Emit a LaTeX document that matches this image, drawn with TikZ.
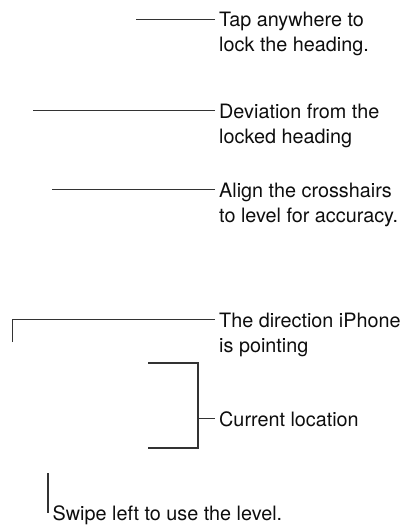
\documentclass[tikz,border=0pt]{standalone}
\usepackage{fontspec}
\setmainfont{TeX Gyre Heros}
\begin{document}
\begin{tikzpicture}[x=1pt,y=-1pt,
  lbl/.style={anchor=base west, inner sep=0pt, text=black!95,
    font=\fontsize{19.8pt}{25pt}\selectfont},
  lead/.style={draw=black!80, line width=1.2pt}]
\useasboundingbox (0,0) rectangle (406,525);

% labels
\node[lbl] (t1) at (219,26.7) {\begin{tabular}[t]{@{}l@{}}Tap anywhere to\\lock the heading.\end{tabular}};
\node[lbl] (t2) at (219,118) {\begin{tabular}[t]{@{}l@{}}Deviation from the\\locked heading\end{tabular}};
\node[lbl] (t3) at (219,197) {\begin{tabular}[t]{@{}l@{}}Align the crosshairs\\to level for accuracy.\end{tabular}};
\node[lbl] (t4) at (219,327) {\begin{tabular}[t]{@{}l@{}}The direction iPhone\\is pointing\end{tabular}};
\node[lbl] (t5) at (219,426) {Current location};
\node[lbl] (t6) at (52.5,520.5) {Swipe left to use the level.};

% connector end points at the first line of each label
\foreach \n in {1,...,6}{
  \path (t\n.base west) ++(-4,-7.3) coordinate (e\n);
}

% free ends
\coordinate (a1) at (136,0);
\coordinate (a2) at (33,0);
\coordinate (a3) at (52,0);
\coordinate (d4) at (12.7,342);
\coordinate (bt) at (148,363);
\coordinate (bb) at (148,448);
\coordinate (bx) at (198,0);
\coordinate (s6) at (48,473);

% connectors
\draw[lead] (e1) -- (e1 -| a1);
\draw[lead] (e2) -- (e2 -| a2);
\draw[lead] (e3) -- (e3 -| a3);
\draw[lead] (d4) |- (e4);
\draw[lead] (bt) -- (bt -| bx) -- (bb -| bx) -- (bb);
\draw[lead] (e5 -| bx) -- (e5);
\draw[lead] (s6) -- (s6 |- e6);
\end{tikzpicture}
\end{document}
